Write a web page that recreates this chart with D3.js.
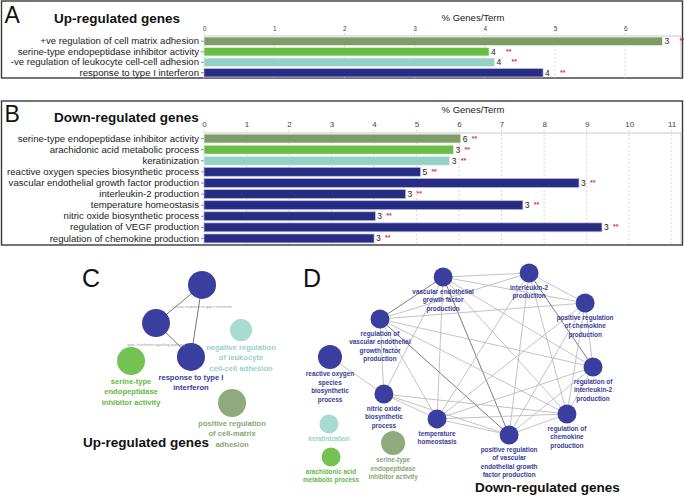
<!DOCTYPE html>
<html><head><meta charset="utf-8">
<script src="https://cdn.jsdelivr.net/npm/d3@7"></script>
<style>
html,body{margin:0;padding:0;background:#fff;}
svg{display:block;font-family:"Liberation Sans",Arial,sans-serif;}
</style></head>
<body><svg id="chart" width="684" height="498"></svg>
<script>
// ---------------- DATA ----------------
const upCats = ["+ve regulation of cell matrix adhesion","serine-type endopeptidase inhibitor activity","-ve regulation of leukocyte cell-cell adhesion","response to type I interferon"];
const upPct = [6.53, 4.06, 4.14, 4.83];
const upGenes = [3, 4, 4, 4];
const upGroup = ["olive","green","teal","navy"];
const upTicks = [0,1,2,3,4,5,6];

const downCats = ["serine-type endopeptidase inhibitor activity","arachidonic acid metabolic process","keratinization","reactive oxygen species biosynthetic process","vascular endothelial growth factor production","interleukin-2 production","temperature homeostasis","nitric oxide biosynthetic process","regulation of VEGF production","regulation of chemokine production"];
const downPct = [6.04, 5.87, 5.78, 5.09, 8.82, 4.74, 7.5, 4.03, 9.36, 4.0];
const downGenes = [6, 3, 3, 5, 3, 3, 3, 3, 3, 3];
const downGroup = ["olive","green","teal","navy","navy","navy","navy","navy","navy","navy"];
const downTicks = [0,1,2,3,4,5,6,7,8,9,10,11];

// Network C (layout units 0-100)
const cIds    = ["cri","tis","rti","nlc","ser","pcm"];
const cLabels = ["cellular response to type I interferon","type I interferon signaling pathway","response to type I\ninterferon","negative regulation\nof leukocyte\ncell-cell adhesion","serine-type\nendopeptidase\ninhibitor activity","positive regulation\nof cell-matrix\nadhesion"];
const cLeading = [false,false,true,true,true,true];
const cGroup  = ["navy","navy","navy","teal","green","olive"];
const cSize   = [4,4,4,2.5,4,4];
const cLX     = [63.1, 27.7, 54.6, 93.1, 8.5, 86.2];
const cLY     = [3.8, 33.1, 59.2, 38.5, 62.3, 94.6];
const cEdges  = [["cri","tis"],["cri","rti"],["tis","rti"]];

// Network D (layout units 0-100)
const dIds    = ["vgf","rvg","ros","no","tmp","ker","ara","ser","il2","pch","ril","rch","pvg"];
const dLabels = ["vascular endothelial\ngrowth factor\nproduction","regulation of\nvascular endothelial\ngrowth factor\nproduction","reactive oxygen\nspecies\nbiosynthetic\nprocess","nitric oxide\nbiosynthetic\nprocess","temperature\nhomeostasis","keratinization","arachidonic acid\nmetabolic process","serine-type\nendopeptidase\ninhibitor activity","interleukin-2\nproduction","positive regulation\nof chemokine\nproduction","regulation of\ninterleukin-2\nproduction","regulation of\nchemokine\nproduction","positive regulation\nof vascular\nendothelial growth\nfactor production"];
const dGroup  = ["navy","navy","navy","navy","navy","teal","green","olive","navy","navy","navy","navy","navy"];
const dSize   = [2.5,2.5,4,2.5,2.5,2.5,2.5,4,2.5,2.5,2.5,2.5,2.5];
const dLX     = [43.0, 19.0, 0.0, 20.5, 40.7, -0.4, 0.4, 24.0, 75.7, 97.0, 100, 90.1, 68.1];
const dLY     = [2.2, 25.0, 45.7, 65.8, 79.3, 82.1, 100, 92.4, 0, 16.3, 51.1, 76.6, 88.0];
const dEdges  = [["vgf","rvg"],["vgf","il2"],["vgf","pch"],["vgf","no"],["vgf","tmp"],["vgf","pvg"],["vgf","ril"],["vgf","rch"],
  ["rvg","il2"],["rvg","pch"],["rvg","ril"],["rvg","rch"],["rvg","pvg"],["rvg","no"],["rvg","tmp"],
  ["ros","no"],
  ["no","tmp"],["no","pvg"],["no","rch"],
  ["tmp","il2"],["tmp","pch"],["tmp","ril"],["tmp","rch"],["tmp","pvg"],
  ["il2","pch"],["il2","ril"],["il2","rch"],["il2","pvg"],
  ["pch","ril"],["pch","rch"],["pch","pvg"],
  ["ril","rch"],["ril","pvg"],["rch","pvg"]];
const dDarkEdges = [["vgf","rvg"],["vgf","pvg"],["rvg","pvg"],["il2","ril"]];

// ---------------- STYLE MAPS ----------------
const barColor = d3.scaleOrdinal().domain(["olive","green","teal","navy"]).range(["#7d9c66","#68bd45","#93d2c4","#282d84"]);
const nodeColor = d3.scaleOrdinal().domain(["olive","green","teal","navy"]).range(["#8fab7d","#74c252","#a8dcd2","#3a3e9f"]);
const textColor = d3.scaleOrdinal().domain(["olive","green","teal","navy"]).range(["#88a776","#62b843","#98d2c6","#383c96"]);

const svg = d3.select("#chart");
const FONT = '"Liberation Sans",Arial,sans-serif';

// ---------------- BAR PANELS ----------------
function barPanel(opt){
  const g = svg.append("g");
  g.append("rect").attr("x",opt.box[0]).attr("y",opt.box[1]).attr("width",opt.box[2]).attr("height",opt.box[3])
    .attr("fill","#fff").attr("stroke","#3a3a3a").attr("stroke-width",1.4);
  g.append("text").attr("x",opt.box[0]+3).attr("y",opt.letterY).text(opt.letter)
    .attr("font-size",23).attr("fill","#111");
  g.append("text").attr("x",54).attr("y",opt.titleY).text(opt.title)
    .attr("font-size",13.5).attr("font-weight","bold").attr("fill","#111");
  g.append("text").attr("x",473).attr("y",opt.axTitleY).text("% Genes/Term")
    .attr("text-anchor","middle").attr("font-size",9.5).attr("fill","#222");

  const x = d3.scaleLinear().domain([0,opt.xmax]).range([204,681]);
  const y = d3.scaleBand().domain(opt.cats).range(opt.yr).paddingInner(0.2).paddingOuter(0.1);

  // plot frame
  g.append("line").attr("x1",204).attr("x2",681).attr("y1",opt.yr[0]).attr("y2",opt.yr[0]).attr("stroke","#bbb").attr("stroke-width",0.8);
  g.append("line").attr("x1",681).attr("x2",681).attr("y1",opt.yr[0]).attr("y2",opt.yr[1]).attr("stroke","#bbb").attr("stroke-width",0.8);
  // grid
  g.selectAll(".grid").data(opt.ticks).enter().append("line")
    .attr("x1",d=>x(d)).attr("x2",d=>x(d)).attr("y1",opt.yr[0]-3).attr("y2",opt.yr[1])
    .attr("stroke","#c8c8c8").attr("stroke-width",0.7).attr("stroke-dasharray","2,2");
  // top axis tick labels
  const ax = g.append("g").attr("transform",`translate(0,${opt.yr[0]})`)
    .call(d3.axisTop(x).tickValues(opt.ticks).tickSize(0).tickPadding(opt.tickPad).tickFormat(d3.format("d")));
  ax.select(".domain").remove();
  ax.selectAll("text").attr("font-size",opt.tickFont).attr("fill","#444").attr("font-family",FONT);

  // left axis
  const ay = g.append("g").attr("transform","translate(204,0)")
    .call(d3.axisLeft(y).tickSize(3).tickPadding(2));
  ay.select(".domain").remove();
  ay.selectAll("line").attr("stroke","#888");
  ay.selectAll("text").attr("font-size",9.6).attr("fill","#222").attr("font-family",FONT);

  // bars
  g.selectAll(".bar").data(opt.cats).enter().append("rect")
    .attr("x",x(0)).attr("y",d=>y(d)).attr("height",y.bandwidth())
    .attr("width",(d,i)=>x(opt.vals[i])-x(0))
    .attr("fill",(d,i)=>barColor(opt.groups[i]))
    .attr("stroke",(d,i)=>opt.groups[i]==="navy"?"#b9bbe0":"#e8efe4").attr("stroke-width",0.7);
  g.selectAll(".cnt").data(opt.cats).enter().append("text")
    .attr("x",(d,i)=>x(opt.vals[i])+2).attr("y",d=>y(d)+y.bandwidth()/2+3)
    .text((d,i)=>opt.counts[i]).attr("font-size",8.5).attr("fill","#222");
  g.selectAll(".sig").data(opt.cats).enter().append("text")
    .attr("x",(d,i)=>x(opt.vals[i])+opt.sigOff).attr("y",d=>y(d)+y.bandwidth()/2+2)
    .text("**").attr("font-size",7).attr("font-weight","bold").attr("fill","#d23a4a");
}

barPanel({box:[1.5,1,681,77], letter:"A", letterY:23, title:"Up-regulated genes", titleY:23, axTitleY:21,
  cats:upCats, vals:upPct, counts:upGenes, groups:upGroup, ticks:upTicks, xmax:6.795, yr:[36,78],
  tickPad:5, tickFont:6.5, sigOff:17});
barPanel({box:[1.5,101,681,144], letter:"B", letterY:122, title:"Down-regulated genes", titleY:122, axTitleY:113,
  cats:downCats, vals:downPct, counts:downGenes, groups:downGroup, ticks:downTicks, xmax:11.22, yr:[133,244],
  tickPad:6, tickFont:8, sigOff:11});

// ---------------- NETWORKS ----------------
function network(opt){
  const g = svg.append("g");
  const x = d3.scaleLinear().domain([0,100]).range(opt.xr);
  const y = d3.scaleLinear().domain([0,100]).range(opt.yr);
  const r = d3.scaleSqrt().domain([0,4]).range([0,opt.rmax]);
  const nodes = opt.ids.map((id,i)=>({id, label:opt.labels[i], group:opt.group[i], size:opt.size[i],
      lx:opt.lx[i], ly:opt.ly[i], leading: opt.leading ? opt.leading[i] : true}));
  const byId = new Map(nodes.map(n=>[n.id,n]));
  const dark = new Set((opt.dark||[]).map(e=>e.join("|")));
  g.selectAll(".edge").data(opt.edges).enter().append("line")
    .attr("x1",e=>x(byId.get(e[0]).lx)).attr("y1",e=>y(byId.get(e[0]).ly))
    .attr("x2",e=>x(byId.get(e[1]).lx)).attr("y2",e=>y(byId.get(e[1]).ly))
    .attr("stroke",e=>dark.has(e.join("|"))?"#5a5a5a":opt.edgeColor)
    .attr("stroke-width",opt.edgeW);
  g.selectAll(".node").data(nodes).enter().append("circle")
    .attr("cx",d=>x(d.lx)).attr("cy",d=>y(d.ly)).attr("r",d=>r(d.size))
    .attr("fill",d=>nodeColor(d.group));
  nodes.forEach(n=>{
    const lines = n.label.split("\n");
    const cx = x(n.lx), top = y(n.ly)+r(n.size);
    const t = g.append("text").attr("text-anchor","middle");
    if(n.leading){
      t.attr("font-size",opt.fs).attr("font-weight","bold").attr("fill",textColor(n.group));
      lines.forEach((l,i)=>t.append("tspan").attr("x",cx).attr("y",top+opt.gap+opt.fs*0.35+i*opt.lh).text(l));
    } else {
      t.attr("font-size",3.8).attr("fill","#9a9a9a");
      t.append("tspan").attr("x",cx).attr("y",top+9).text(lines[0]);
    }
  });
}

svg.append("text").attr("x",82).attr("y",287).text("C").attr("font-size",25).attr("fill","#111");
network({ids:cIds, labels:cLabels, group:cGroup, size:cSize, lx:cLX, ly:cLY, leading:cLeading, edges:cEdges,
  xr:[120,250], yr:[280,410], rmax:14, fs:7.6, lh:10.5, gap:6, edgeColor:"#777", edgeW:1});
svg.append("text").attr("x",83).attr("y",447).text("Up-regulated genes")
  .attr("font-size",13.5).attr("font-weight","bold").attr("fill","#111");

svg.append("text").attr("x",303).attr("y",287).text("D").attr("font-size",25).attr("fill","#111");
network({ids:dIds, labels:dLabels, group:dGroup, size:dSize, lx:dLX, ly:dLY, edges:dEdges, dark:dDarkEdges,
  xr:[330,593], yr:[273,457], rmax:12, fs:6.4, lh:8.5, gap:5, edgeColor:"#b4b4b4", edgeW:0.8});
svg.append("text").attr("x",475).attr("y",492).text("Down-regulated genes")
  .attr("font-size",13.5).attr("font-weight","bold").attr("fill","#111");
</script>
</body></html>
